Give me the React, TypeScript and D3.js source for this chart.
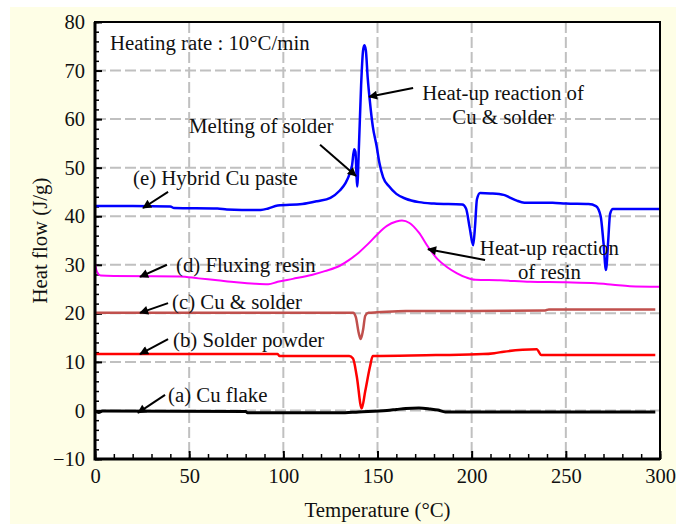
import React, { useEffect, useRef } from 'react';
import * as d3 from 'd3';

// DSC curves, [temperature °C, heat flow J/g]
const hybridPaste = [
  [0, 42.1], [20, 42.1], [40, 42.0], [42, 41.7], [65, 41.6], [70, 41.4], [78, 41.3], [88, 41.3],
  [92, 41.6], [97, 42.2], [110, 42.5], [118, 43.1], [125, 43.8], [130, 45.3], [133, 46.8],
  [135, 48.5], [136.5, 50.5], [137.6, 53.8], [138.3, 53.2], [138.8, 49], [139.2, 46.1],
  [140.2, 55], [141.3, 67], [142.3, 74], [143, 75.2], [143.8, 74.2], [144.8, 68.5], [146, 63.5],
  [147.5, 58.5], [149.5, 54.5], [151, 51], [153, 48], [156, 46.2], [160, 44.6], [165, 43.6],
  [172, 42.9], [180, 42.6], [195, 42.4], [197, 41.6], [199, 37.5], [200.8, 34.0], [201.8, 38],
  [202.8, 43.5], [204.5, 44.8], [210, 44.7], [217, 44.4], [220, 43.9], [224, 43.2], [228, 42.8],
  [243, 42.8], [250, 42.6], [262, 42.5], [266, 42.1], [268.5, 40], [270, 34.5], [271.3, 28.9],
  [272.5, 35], [273.5, 40.5], [275, 41.5], [285, 41.5], [300, 41.5],
];
const fluxingResin = [
  [0, 30.3], [1, 28.6], [3, 27.8], [10, 27.7], [45, 27.6], [55, 27.2], [65, 26.8], [75, 26.4],
  [85, 26.1], [92, 26.0], [97, 26.5], [105, 27.1], [115, 27.9], [122, 28.7], [130, 29.8],
  [135, 31], [140, 32.5], [145, 34.3], [150, 36.3], [155, 38.0], [160, 38.9], [163, 39.1],
  [167, 38.6], [172, 36.6], [177, 33.6], [182, 31.1], [187, 29.5], [192, 28.3], [197, 27.4],
  [202, 26.9], [215, 26.8], [231, 26.5], [250, 26.4], [266, 26.2], [275, 25.9], [284, 25.6],
  [300, 25.5],
];
const cuSolder = [
  [0, 20.1], [60, 20.1], [100, 20.1], [137, 20.1], [138.5, 19.2], [140, 16], [141.1, 14.7],
  [142.3, 16.5], [143.5, 19.5], [145.2, 20.1], [150, 20.2], [165, 20.5], [200, 20.5],
  [239, 20.6], [241, 20.8], [297.5, 20.8],
];
const solderPowder = [
  [0, 11.6], [97, 11.6], [98, 11.2], [135, 11.2], [137, 10.7], [139, 7], [141.6, 0.4],
  [143.5, 4], [146, 9], [147.5, 11.2], [181, 11.4], [206, 11.6], [212, 11.8], [217, 12.1],
  [227, 12.5], [234.5, 12.6], [237, 11.4], [297.5, 11.4],
];
const cuFlake = [
  [0, -0.1], [2, -0.4], [4, -0.1], [80, -0.2], [81, -0.5], [130, -0.5], [140, -0.3], [155, 0.0],
  [160, 0.2], [165, 0.4], [172, 0.5], [178, 0.3], [182, 0.1], [186, -0.3], [297.5, -0.3],
];

const xTicks = [0, 50, 100, 150, 200, 250, 300];
const yTicks = [-10, 0, 10, 20, 30, 40, 50, 60, 70, 80];

const series = [
  { name: '(a) Cu flake', data: cuFlake, color: '#000000', width: 3 },
  { name: '(b) Solder powder', data: solderPowder, color: '#ff0000', width: 2.5 },
  { name: '(c) Cu & solder', data: cuSolder, color: '#c0504d', width: 2.5 },
  { name: '(d) Fluxing resin', data: fluxingResin, color: '#ff00ff', width: 2 },
  { name: '(e) Hybrid Cu paste', data: hybridPaste, color: '#0000ff', width: 2.5 },
];

// labels: text anchor position + arrow (from -> to) in data units
const labels = [
  { lines: ['(e) Hybrid Cu paste'], at: [20.2, 46.4], anchor: 'start', from: [38.8, 45.0], to: [25.5, 41.7] },
  { lines: ['(d) Fluxing resin'], at: [43.0, 28.6], anchor: 'start', from: [38.2, 30.0], to: [23.9, 27.5] },
  { lines: ['(c) Cu & solder'], at: [40.9, 20.8], anchor: 'start', from: [38.8, 22.1], to: [23.9, 20.1] },
  { lines: ['(b) Solder powder'], at: [41.4, 13.1], anchor: 'start', from: [38.8, 14.7], to: [23.9, 11.6] },
  { lines: ['(a) Cu flake'], at: [38.8, 1.8], anchor: 'start', from: [37.2, 3.2], to: [22.8, -0.5] },
  { lines: ['Melting of solder'], at: [49.9, 57.1], anchor: 'start', from: [119.5, 54.7], to: [138.6, 48.3] },
  { lines: ['Heat-up reaction of', 'Cu & solder'], at: [216.7, 63.9], anchor: 'middle', from: [168.9, 66.4], to: [145.5, 64.6] },
  { lines: ['Heat-up reaction', 'of resin'], at: [241.3, 32.0], anchor: 'middle', from: [207.1, 31.0], to: [176.8, 33.2] },
  { lines: ['Heating rate : 10°C/min'], at: [8.0, 74.2], anchor: 'start', from: null, to: null },
];

const W = 676;
const H = 524;
const FONT = '"Liberation Serif", "Times New Roman", serif';
const TEXT_SIZE = 20.8;

const DscChart = () => {
  const svgRef = useRef(null);

  useEffect(() => {
    const svg = d3.select(svgRef.current);
    svg.selectAll('*').remove();

    const margin = { top: 22, right: 16, bottom: 65, left: 95 };
    const width = W - margin.left - margin.right;
    const height = H - margin.top - margin.bottom;

    const x = d3.scaleLinear().domain([0, 300]).range([0, width]);
    const y = d3.scaleLinear().domain([-10, 80]).range([height, 0]);

    // backgrounds
    svg.append('rect').attr('width', W).attr('height', H).attr('fill', '#ffffff');
    svg.append('rect').attr('x', 10).attr('y', 7).attr('width', W - 10).attr('height', H - 7).attr('fill', '#fefee6');

    const defs = svg.append('defs');
    defs.append('marker')
      .attr('id', 'arrow')
      .attr('viewBox', '0 0 10 10')
      .attr('refX', 9).attr('refY', 5)
      .attr('markerWidth', 12).attr('markerHeight', 9)
      .attr('markerUnits', 'userSpaceOnUse')
      .attr('orient', 'auto')
      .append('path').attr('d', 'M0,0 L10,5 L0,10 Z').attr('fill', '#000');

    const g = svg.append('g').attr('transform', `translate(${margin.left},${margin.top})`);
    g.append('rect').attr('width', width).attr('height', height).attr('fill', '#ffffff');

    // grid
    g.selectAll('.vgrid')
      .data(xTicks.slice(1, -1))
      .enter().append('line')
      .attr('x1', d => x(d)).attr('x2', d => x(d))
      .attr('y1', 0).attr('y2', height)
      .attr('stroke', '#c0c0c0').attr('stroke-width', 2).attr('stroke-dasharray', '11,4');
    g.selectAll('.hgrid')
      .data(yTicks.slice(1, -1))
      .enter().append('line')
      .attr('y1', d => y(d)).attr('y2', d => y(d))
      .attr('x1', 0).attr('x2', width)
      .attr('stroke', '#c0c0c0').attr('stroke-width', 2).attr('stroke-dasharray', '11,4');

    // minor ticks
    g.append('g')
      .call(d3.axisLeft(y).tickValues(d3.range(-10, 81, 2)).tickSize(-4).tickFormat(() => ''))
      .call(a => a.select('.domain').remove())
      .selectAll('line').attr('stroke-width', 1.5);
    g.append('g')
      .attr('transform', `translate(0,${height})`)
      .call(d3.axisBottom(x).tickValues(d3.range(0, 301, 10)).tickSize(-5).tickFormat(() => ''))
      .call(a => a.select('.domain').remove())
      .selectAll('line').attr('stroke-width', 1.5);

    // major ticks with labels
    const yAxis = g.append('g')
      .call(d3.axisLeft(y).tickValues(yTicks).tickSize(-7).tickPadding(10).tickFormat(d3.format('d')));
    const xAxis = g.append('g')
      .attr('transform', `translate(0,${height})`)
      .call(d3.axisBottom(x).tickValues(xTicks).tickSize(-8).tickPadding(14).tickFormat(d3.format('d')));
    [yAxis, xAxis].forEach(a => {
      a.select('.domain').remove();
      a.selectAll('line').attr('stroke-width', 2);
      a.selectAll('text').attr('font-family', FONT).attr('font-size', 20.5).attr('fill', '#111');
    });
    xAxis.selectAll('text').attr('dy', '0.5em');

    // curves
    const line = d3.line().x(d => x(d[0])).y(d => y(d[1])).curve(d3.curveMonotoneX);
    series.forEach(s => {
      g.append('path')
        .datum(s.data)
        .attr('d', line)
        .attr('fill', 'none')
        .attr('stroke', s.color)
        .attr('stroke-width', s.width)
        .attr('stroke-linejoin', 'round');
    });

    // frame
    g.append('rect').attr('width', width).attr('height', height)
      .attr('fill', 'none').attr('stroke', '#000').attr('stroke-width', 2);
    g.append('path')
      .attr('d', `M0,0V${height}H${width}`)
      .attr('fill', 'none').attr('stroke', '#000').attr('stroke-width', 3);

    // annotations
    labels.forEach(l => {
      const t = g.append('text')
        .attr('x', x(l.at[0])).attr('y', y(l.at[1]))
        .attr('text-anchor', l.anchor)
        .attr('font-family', FONT).attr('font-size', TEXT_SIZE).attr('fill', '#111');
      l.lines.forEach((s, i) => {
        t.append('tspan').attr('x', x(l.at[0])).attr('dy', i === 0 ? 0 : 23.5).text(s);
      });
      if (l.from) {
        g.append('line')
          .attr('x1', x(l.from[0])).attr('y1', y(l.from[1]))
          .attr('x2', x(l.to[0])).attr('y2', y(l.to[1]))
          .attr('stroke', '#000').attr('stroke-width', 2)
          .attr('marker-end', 'url(#arrow)');
      }
    });

    // axis titles
    svg.append('text')
      .attr('x', margin.left + width / 2).attr('y', 517)
      .attr('text-anchor', 'middle')
      .attr('font-family', FONT).attr('font-size', TEXT_SIZE).attr('fill', '#111')
      .text('Temperature (°C)');
    svg.append('text')
      .attr('transform', `translate(47,${margin.top + height / 2}) rotate(-90)`)
      .attr('text-anchor', 'middle')
      .attr('font-family', FONT).attr('font-size', TEXT_SIZE).attr('fill', '#111')
      .text('Heat flow (J/g)');
  }, []);

  return (
    <svg ref={svgRef} width={W} height={H} style={{ position: 'absolute', left: 0, top: 0, display: 'block' }}></svg>
  );
};

export default function App() {
  return <DscChart />;
}
